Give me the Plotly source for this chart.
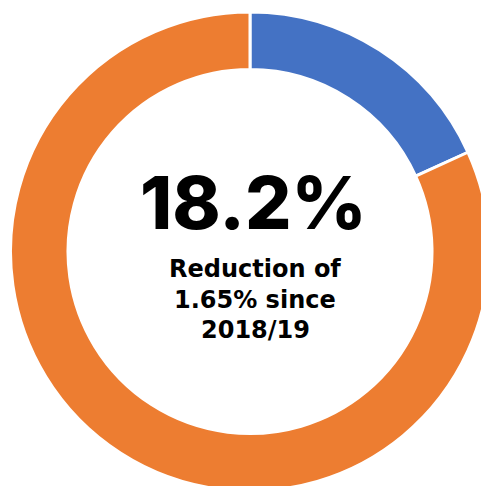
import plotly.graph_objects as go

labels = ["Share", "Remainder"]
values = [18.2, 81.8]
colors = ["#4472C4", "#ED7D31"]
headline = "18.2%"
subtitle_lines = ["Reduction of", "1.65% since", "2018/19"]

W, H = 500, 500
cx, cy = 250, 251.5  # px from top-left
r = 239.5

fig = go.Figure(go.Pie(
    labels=labels,
    values=values,
    sort=False,
    direction="clockwise",
    rotation=0,
    hole=0.76,
    marker=dict(colors=colors, line=dict(color="white", width=3)),
    textinfo="none",
    hoverinfo="none",
    showlegend=False,
    domain=dict(x=[(cx - r) / W, (cx + r) / W],
                y=[(H - cy - r) / H, (H - cy + r) / H]),
))

fig.add_annotation(
    x=253 / W, y=(H - 202) / H, xref="paper", yref="paper",
    text=headline, showarrow=False,
    font=dict(family="Inter", size=73, color="black", weight=800),
)
for i, line in enumerate(subtitle_lines):
    fig.add_annotation(
        x=255 / W, y=(H - (269.5 + 30 * i)) / H, xref="paper", yref="paper",
        text=line, showarrow=False,
        font=dict(family="DejaVu Sans", size=24, color="black", weight=700),
    )

fig.update_layout(
    width=W, height=H,
    margin=dict(l=0, r=0, t=0, b=0),
    paper_bgcolor="white", plot_bgcolor="white",
)

fig.write_html(
    "out.html",
    config={"displayModeBar": False},
    post_script="document.body.style.overflow='hidden';document.documentElement.style.overflow='hidden';document.body.style.margin='0';",
)
